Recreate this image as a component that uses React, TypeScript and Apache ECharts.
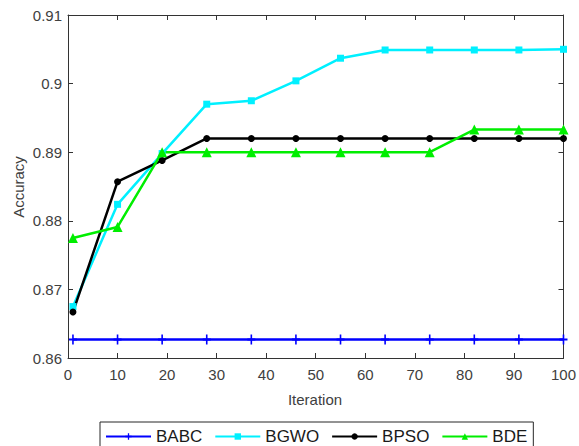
import React, { useEffect, useRef } from "react";
import * as echarts from "echarts";

const iterations = [1, 10, 19, 28, 37, 46, 55, 64, 73, 82, 91, 100];
const babc = [0.8627, 0.8627, 0.8627, 0.8627, 0.8627, 0.8627, 0.8627, 0.8627, 0.8627, 0.8627, 0.8627, 0.8627];
const bgwo = [0.8675, 0.8824, 0.8898, 0.897, 0.8975, 0.9004, 0.9037, 0.9049, 0.9049, 0.9049, 0.9049, 0.905];
const bpso = [0.8667, 0.8857, 0.8888, 0.892, 0.892, 0.892, 0.892, 0.892, 0.892, 0.892, 0.892, 0.892];
const bde = [0.8775, 0.8791, 0.89, 0.89, 0.89, 0.89, 0.89, 0.89, 0.89, 0.8933, 0.8933, 0.8933];
const seriesNames = ["BABC", "BGWO", "BPSO", "BDE"];
const yTicks = [0.86, 0.87, 0.88, 0.89, 0.9, 0.91];

const FONT = "Liberation Sans, Arial, sans-serif";
const AX = "#333333";
const PLUS = "path://M4,0 L6,0 L6,10 L4,10 Z M0,4 L10,4 L10,6 L0,6 Z";

export default function App() {
  const ref = useRef<HTMLDivElement>(null);
  useEffect(() => {
    if (!ref.current) return;
    const chart = echarts.init(ref.current, undefined, { renderer: "svg" });
    const pairs = (ys: number[]) => iterations.map((x, i) => [x, ys[i]]);
    const yLabel = (v: number) => {
      const t = yTicks.find((k) => Math.abs(k - v) < 1e-9);
      return t === undefined ? "" : String(t);
    };
    const axisCommon = {
      axisLine: { show: true, onZero: false, lineStyle: { color: AX, width: 1 } },
      axisTick: { show: true, inside: true, length: 5, lineStyle: { color: AX } },
      splitLine: { show: false },
    };
    chart.setOption({
      animation: false,
      grid: { left: 68, top: 15, right: 14, bottom: 88, containLabel: false },
      xAxis: [
        {
          type: "value",
          min: 0,
          max: 100,
          interval: 10,
          position: "bottom",
          ...axisCommon,
          axisLabel: { color: "#404040", fontSize: 15, fontFamily: FONT, margin: 9 },
        },
        {
          type: "value",
          min: 0,
          max: 100,
          interval: 10,
          position: "top",
          ...axisCommon,
          axisLabel: { show: false },
        },
      ],
      yAxis: [
        {
          type: "value",
          min: 0.86,
          max: 0.91,
          interval: 0.01,
          position: "left",
          ...axisCommon,
          axisLabel: { color: "#404040", fontSize: 15, fontFamily: FONT, margin: 6, formatter: yLabel },
        },
        {
          type: "value",
          min: 0.86,
          max: 0.91,
          interval: 0.01,
          position: "right",
          ...axisCommon,
          axisLabel: { show: false },
        },
      ],
      legend: {
        left: 100,
        top: 422,
        orient: "horizontal",
        data: seriesNames,
        itemWidth: 45,
        itemHeight: 8,
        itemGap: 12,
        padding: [6, 6, 12, 5],
        borderColor: "#262626",
        borderWidth: 1,
        borderRadius: 0,
        textStyle: { color: "#1a1a1a", fontSize: 17, fontFamily: FONT, padding: [0, 0, 0, 0] },
      },
      graphic: [
        {
          type: "text",
          x: 315,
          y: 399,
          style: {
            text: "Iteration",
            fill: "#404040",
            font: `15px ${FONT}`,
            textAlign: "center",
            textVerticalAlign: "middle",
          },
        },
        {
          type: "text",
          x: 18,
          y: 187,
          rotation: Math.PI / 2,
          style: {
            text: "Accuracy",
            fill: "#404040",
            font: `15px ${FONT}`,
            textAlign: "center",
            textVerticalAlign: "middle",
          },
        },
      ],
      series: [
        {
          name: seriesNames[0],
          type: "line",
          data: pairs(babc),
          symbol: PLUS,
          symbolSize: [8, 10],
          showAllSymbol: true,
          lineStyle: { color: "#0000ff", width: 2.5 },
          itemStyle: { color: "#0000ff" },
        },
        {
          name: seriesNames[1],
          type: "line",
          data: pairs(bgwo),
          symbol: "rect",
          symbolSize: 7,
          lineStyle: { color: "#00f0ff", width: 2.5 },
          itemStyle: { color: "#00f0ff" },
        },
        {
          name: seriesNames[2],
          type: "line",
          data: pairs(bpso),
          symbol: "circle",
          symbolSize: 7,
          lineStyle: { color: "#000000", width: 2.5 },
          itemStyle: { color: "#000000" },
        },
        {
          name: seriesNames[3],
          type: "line",
          data: pairs(bde),
          symbol: "triangle",
          symbolSize: 10,
          lineStyle: { color: "#00ee00", width: 2.5 },
          itemStyle: { color: "#00ee00" },
        },
      ],
    });
    return () => chart.dispose();
  }, []);
  return (
    <div
      ref={ref}
      style={{ position: "fixed", left: 0, top: 0, width: 579, height: 446, background: "#fff" }}
    />
  );
}
